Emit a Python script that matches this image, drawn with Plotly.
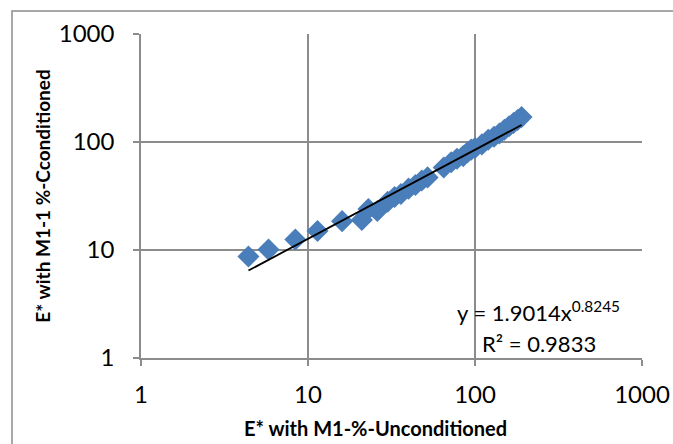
import numpy as np
import plotly.graph_objects as go

x_unconditioned = [4.4, 5.8, 8.4, 11.4, 16, 21, 23, 26, 30, 33, 36, 40, 44, 48, 52,
                   65, 72, 78, 85, 90, 95, 100, 110, 120, 130, 140, 150, 160, 170, 180, 190]
y_conditioned = [8.7, 10.1, 12.5, 15, 18.5, 19, 24, 23, 28, 31, 33, 37, 40, 44, 47,
                 58, 65, 70, 74, 80, 85, 88, 95, 105, 112, 120, 130, 140, 150, 160, 170]
fit_a, fit_b = 1.9014, 0.8245
r2 = 0.9833
tick_vals = [1, 10, 100, 1000]
tick_text = ["1", "10", "100", "1000"]

xf = np.logspace(np.log10(min(x_unconditioned)), np.log10(max(x_unconditioned)), 50)
yf = fit_a * xf ** fit_b

fig = go.Figure()
fig.add_trace(go.Scatter(x=x_unconditioned, y=y_conditioned, mode="markers",
                         marker=dict(symbol="diamond", size=17, color="#4A7EBB",
                                     line=dict(width=0)),
                         showlegend=False))
fig.add_trace(go.Scatter(x=xf, y=yf, mode="lines",
                         line=dict(color="black", width=1.8), showlegend=False))

axis_common = dict(type="log", range=[0, 3], tickvals=tick_vals, ticktext=tick_text,
                   showgrid=True, gridcolor="#8C8C8C", gridwidth=1.5,
                   showline=True, linecolor="#8C8C8C", linewidth=1.5, mirror=False,
                   ticks="outside", ticklen=6, tickcolor="#8C8C8C", tickwidth=1.5,
                   zeroline=False, automargin=False,
                   tickfont=dict(family="Lato, sans-serif", size=24, color="black"))

fig.update_layout(
    width=673, height=444,
    margin=dict(l=141, r=31, t=34, b=86),
    paper_bgcolor="white", plot_bgcolor="white",
    xaxis=dict(**axis_common, ticklabelstandoff=8),
    yaxis=dict(**axis_common, ticklabelstandoff=14,
               title=dict(text="<b>E* with M1-1 %-Cconditioned</b>", standoff=3,
                          font=dict(family="Lato, sans-serif", size=19, color="black"))),
    shapes=[dict(type="rect", xref="paper", yref="paper",
                 x0=-0.2575, x1=1.09, y0=-0.3, y1=1.071,
                 line=dict(color="#8C8C8C", width=1.5), fillcolor="rgba(0,0,0,0)",
                 layer="below")],
    annotations=[
        dict(xref="paper", yref="paper", x=0.469, y=-0.216, showarrow=False,
             xanchor="center", yanchor="middle",
             text="<b>E* with M1-%-Unconditioned</b>",
             font=dict(family="Lato, sans-serif", size=20, color="black")),
        dict(xref="paper", yref="paper", x=0.794, y=0.142, showarrow=False,
             xanchor="center", yanchor="middle",
             text="y = %.4fx<sup>%.4f</sup>" % (fit_a, fit_b),
             font=dict(family="Lato, sans-serif", size=22, color="black")),
        dict(xref="paper", yref="paper", x=0.794, y=0.046, showarrow=False,
             xanchor="center", yanchor="middle",
             text="R² = %.4f" % r2,
             font=dict(family="Lato, sans-serif", size=22, color="black")),
    ],
)

fig.write_html("out.html")
